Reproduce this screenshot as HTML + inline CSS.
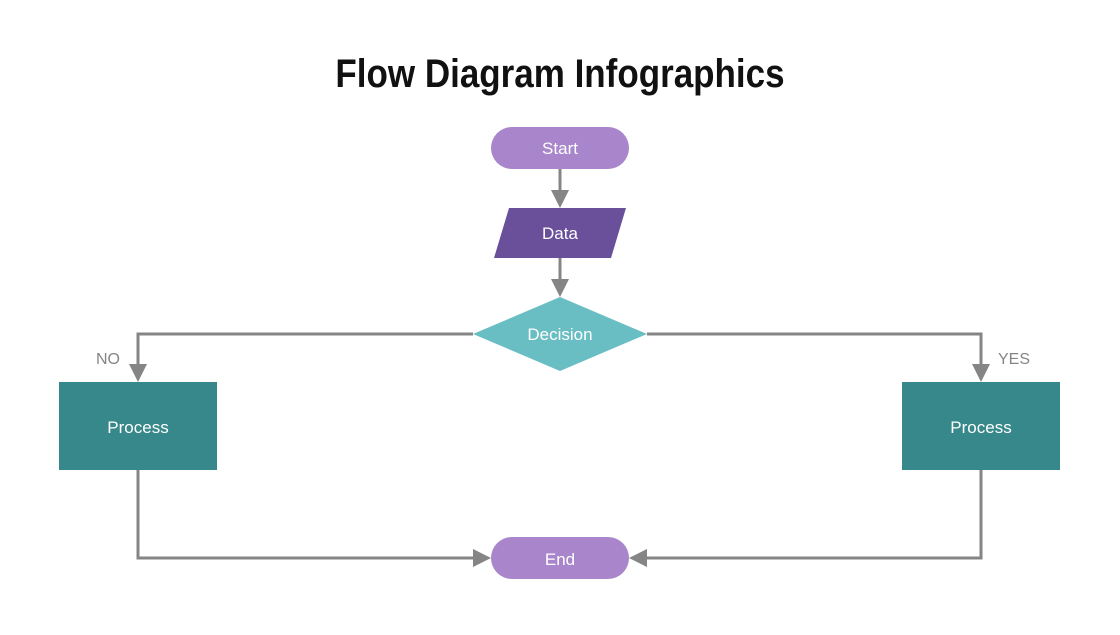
<!DOCTYPE html>
<html><head><meta charset="utf-8"><style>
body{margin:0;width:1120px;height:630px;background:#fff;overflow:hidden;}
</style></head><body>
<svg width="1120" height="630" viewBox="0 0 1120 630" xmlns="http://www.w3.org/2000/svg">
<defs><marker id="a" markerWidth="6" markerHeight="6" refX="5" refY="3" orient="auto" markerUnits="strokeWidth"><path d="M0,0 L6,3 L0,6 z" fill="#858585"/></marker></defs>
<text x="560" y="87" text-anchor="middle" font-family="Liberation Sans, sans-serif" font-weight="bold" font-size="40" transform="translate(560 0) scale(0.875 1) translate(-560 0)" fill="#111">Flow Diagram Infographics</text>
<g stroke="#858585" stroke-width="3" fill="none">
<line x1="560" y1="169" x2="560" y2="205" marker-end="url(#a)"/>
<line x1="560" y1="258" x2="560" y2="294" marker-end="url(#a)"/>
<polyline points="473,334 138,334 138,379" marker-end="url(#a)"/>
<polyline points="647,334 981,334 981,379" marker-end="url(#a)"/>
<polyline points="138,470 138,558 488,558" marker-end="url(#a)"/>
<polyline points="981,470 981,558 632,558" marker-end="url(#a)"/>
</g>
<rect x="491" y="127" width="138" height="42" rx="21" fill="#a985cc"/>
<polygon points="509,208 626,208 611,258 494,258" fill="#6a4f9b"/>
<polygon points="473,334 560,297 647,334 560,371" fill="#69bec3"/>
<rect x="59" y="382" width="158" height="88" fill="#37888a"/>
<rect x="902" y="382" width="158" height="88" fill="#37888a"/>
<rect x="491" y="537" width="138" height="42" rx="21" fill="#a985cc"/>
<g font-family="Liberation Sans, sans-serif" font-size="17" fill="#fff" text-anchor="middle">
<text x="560" y="154">Start</text>
<text x="560" y="239">Data</text>
<text x="560" y="340">Decision</text>
<text x="138" y="433">Process</text>
<text x="981" y="433">Process</text>
<text x="560" y="565">End</text>
</g>
<g font-family="Liberation Sans, sans-serif" font-size="16" fill="#858585">
<text x="96" y="364">NO</text>
<text x="998" y="364">YES</text>
</g>
</svg>
</body></html>
